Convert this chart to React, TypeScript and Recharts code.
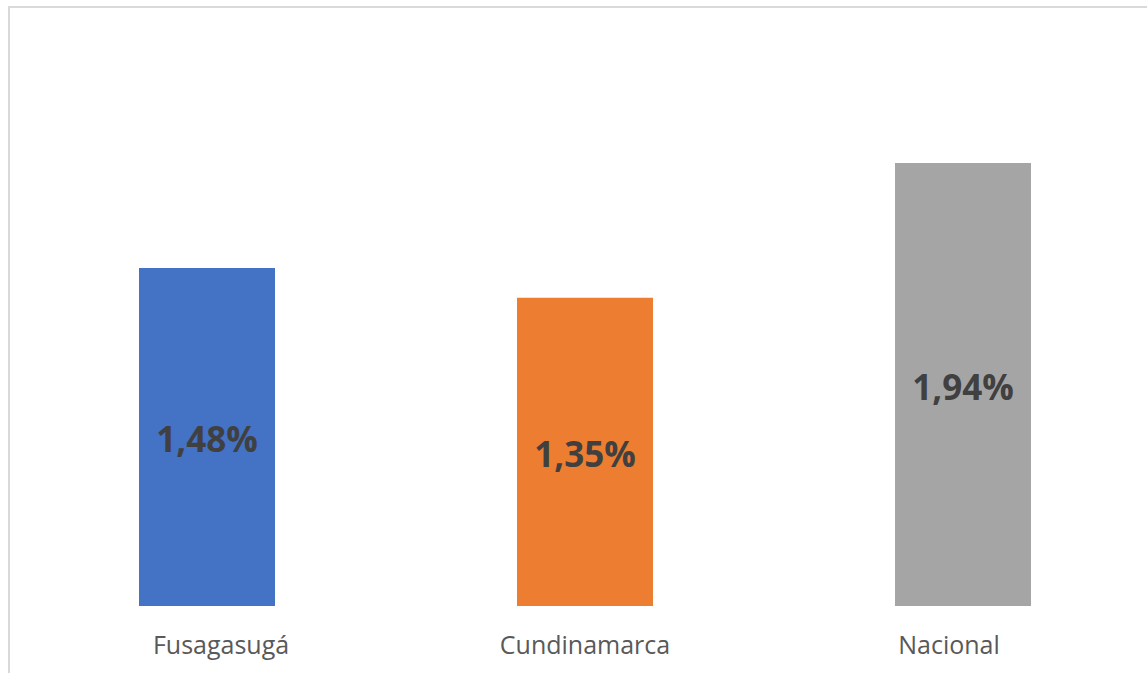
import React from 'react';
import { BarChart, Bar, XAxis, YAxis, Cell, LabelList } from 'recharts';

const categories = ['Fusagasugá', 'Cundinamarca', 'Nacional'];
const values = [1.48, 1.35, 1.94];
const colors = ['#4472C4', '#ED7D31', '#A5A5A5'];

const data = categories.map((name, i) => ({ name, value: values[i] }));

const formatPct = (v: number) => `${v.toFixed(2).replace('.', ',')}%`;

// Excel squeezes the outer category labels slightly toward the middle
const CategoryTick = (props: any) => {
  const { x, y, payload, index } = props;
  const shift = (1 - index) * 14;
  return (
    <text x={x + shift} y={y + 40} textAnchor="middle" fill="#595959" fontSize={25} fontFamily="'Open Sans', sans-serif">
      {payload.value}
    </text>
  );
};

const App: React.FC = () => {
  return (
    <div style={{ position: 'fixed', inset: 0, overflow: 'hidden', background: '#fff' }}>
      <div
        style={{
          position: 'absolute',
          left: 8,
          top: 6,
          width: 1300,
          height: 800,
          border: '2px solid #d9d9d9',
          boxSizing: 'border-box',
        }}
      />
      <div style={{ position: 'absolute', left: 0, top: 0 }}>
        <BarChart
          width={1170}
          height={673}
          data={data}
          margin={{ top: 35, right: 18, bottom: 7, left: 18 }}
          barSize={136}
        >
          <XAxis dataKey="name" axisLine={false} tickLine={false} tick={<CategoryTick />} height={60} interval={0} />
          <YAxis hide domain={[0, 2.5]} />
          <Bar dataKey="value" isAnimationActive={false}>
            {data.map((d, i) => (
              <Cell key={d.name} fill={colors[i]} />
            ))}
            <LabelList
              dataKey="value"
              position="center"
              formatter={(v: any) => formatPct(Number(v))}
              fill="#404040"
              fontSize={35}
              fontWeight="bold"
              fontFamily="'Open Sans', sans-serif"
              dy={3}
            />
          </Bar>
        </BarChart>
      </div>
    </div>
  );
};

export default App;
